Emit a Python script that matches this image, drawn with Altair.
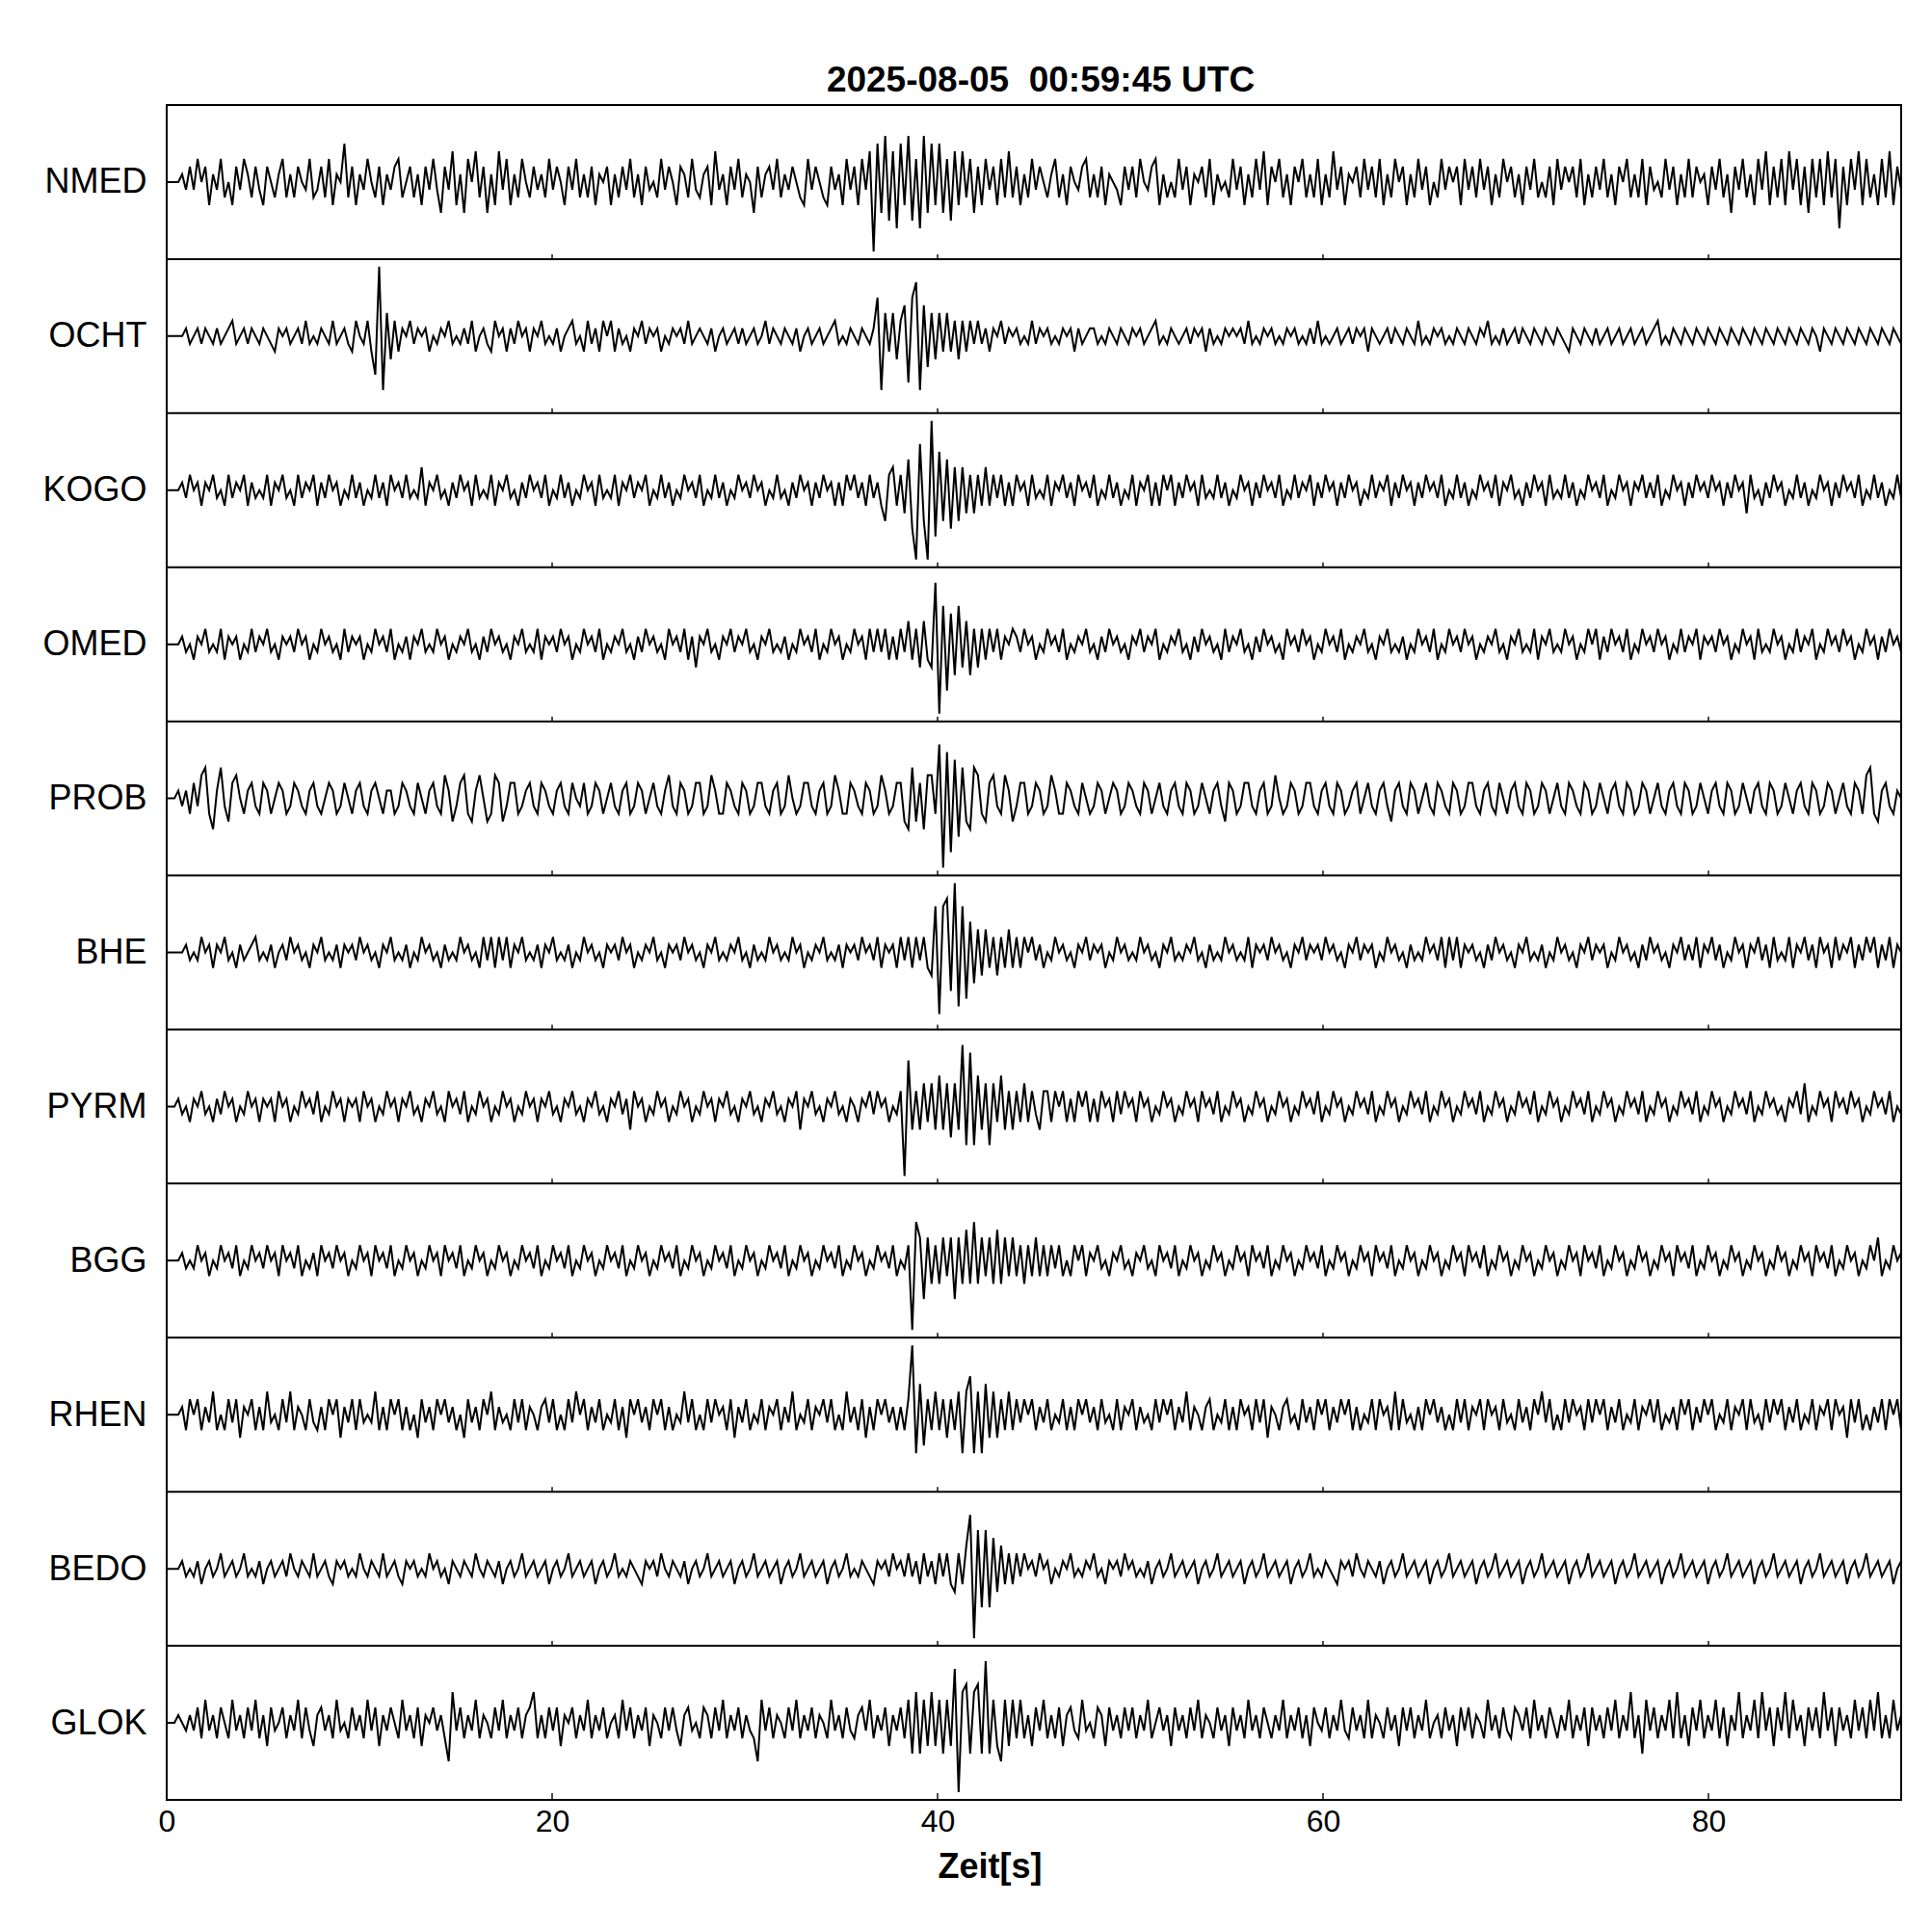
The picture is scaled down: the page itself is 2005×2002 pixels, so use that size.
import altair as alt
import pandas as pd

STATIONS = ["NMED", "OCHT", "KOGO", "OMED", "PROB", "BHE", "PYRM", "BGG", "RHEN", "BEDO", "GLOK"]
DURATION = 90.0
TITLE = "2025-08-05\u00a0 00:59:45 UTC"
X_TICKS = [0, 20, 40, 60, 80]
X_LABEL = "Zeit[s]"

# normalised trace amplitudes, one sample every ~0.2 s (10 = half a panel)
NMED = [
0,0,0,0,1,-1,2,-1,3,0, 2,-3,1,-1,3,-2,0,-3,2,-1, 3,1,-2,2,-1,-3,2,0,-2,1, 3,-2,1,-2,2,0,-1,3,-2,-1, 2,-2,3,-3,1,0,5,-2,2,-3,
1,-1,3,0,-2,2,-3,1,-1,2, 3,-2,0,2,-2,1,-3,2,-1,3, -1,-4,2,-1,4,-3,1,-4,3,0, 4,-2,2,-4,1,-3,4,-1,3,-3, 1,-2,3,0,-2,2,-1,1,-2,3,
-1,2,0,-3,2,-1,3,-2,1,-2, 2,-3,1,0,2,-3,1,-2,2,-1, 3,-2,1,-3,2,-1,0,-2,3,-1, 2,0,-3,2,1,-2,3,-1,-2,1, 2,-3,4,-1,1,-3,2,-1,3,-2,
1,0,-4,2,-2,1,2,-1,3,-2, 1,-1,2,0,-2,-3,3,-1,2,0, -2,-3,2,-1,1,-3,3,-1,2,-3, 3,-1,4,-9,5,-4,6,-5,4,-6, 5,-3,6,-5,3,-6,6,-4,5,-3,
5,-4,3,-5,4,-3,4,-2,3,-4, 2,-3,3,-1,2,-3,3,-2,4,-2, 2,-3,1,-2,3,-1,2,0,-2,1, 3,-2,1,-3,2,0,-1,2,3,-2, 1,-2,2,-3,1,0,-1,-3,2,-1,
2,-2,3,0,-1,2,3,-3,1,-2, 0,-2,3,-1,2,-3,1,0,2,-2, 3,-3,1,-1,0,-2,3,-1,2,-3, 1,-2,3,-1,4,-3,2,0,3,-2, 1,-3,2,0,3,-2,1,-2,3,-3,
1,-2,4,-1,2,-3,1,0,2,-2, 3,-1,2,-2,3,-3,1,-2,3,0, 2,-3,1,-2,3,-1,2,-3,0,-2, 3,-1,2,0,2,-3,3,-1,2,-2, 3,-1,2,-3,1,-2,3,0,2,-2,
1,-3,2,-1,3,-2,0,-2,2,-3, 3,-1,2,0,2,-2,3,-3,1,-2, 2,-1,3,-2,1,-3,2,0,3,-2, 1,-2,3,-3,2,-1,0,-2,3,-1, 2,-3,1,-2,3,-2,2,0,1,-3,
2,-1,3,-2,1,-4,2,-1,3,-2, 1,-3,3,-1,4,-3,2,-2,3,-3, 4,-1,3,-3,2,-4,3,-2,3,-3, 4,-2,3,-6,2,-3,3,-1,4,-3, 3,-2,1,-3,3,-2,4,-3,2,-1,
]
OCHT = [
0,0,0,0,0,1,-1,0,1,-1, 1,0,-1,1,-1,0,1,2,-1,0, 1,-1,1,0,-1,1,0,-1,-2,1, 0,1,-1,0,1,-1,2,-1,0,-1, 1,0,-1,2,-1,0,1,-1,-2,2,
0,-1,2,-2,-5,9,-7,3,-3,2, -2,1,0,2,-1,1,0,1,-2,0, -1,1,0,2,-1,0,-1,1,-1,2, -2,0,1,-1,-2,2,0,1,-2,1, -1,2,0,1,-2,1,0,2,-1,0,
-1,1,-2,0,1,2,-1,0,-2,2, -1,1,-2,2,0,2,-2,1,-1,0, -2,1,0,2,-1,1,0,1,-2,0, -1,1,0,1,-1,2,-1,0,1,0, -1,1,-2,0,1,-1,0,1,-1,1,
-1,0,1,-1,0,2,-1,1,0,-1, 1,0,-1,1,-2,0,1,-1,0,1, -1,0,1,2,-1,0,-1,1,0,-1, 1,0,-1,1,5,-7,3,-2,3,-3, 2,4,-6,5,7,-7,4,-4,3,-3,
3,-2,3,-2,2,-3,2,-2,2,-1, 2,-1,1,-2,1,0,2,-1,1,0, 1,-1,0,-1,2,-1,1,0,1,-1, 0,-1,1,0,1,-2,1,-1,0,1, 1,-1,0,-1,1,0,-1,1,0,-1,
1,0,1,-1,0,1,2,-1,0,-1, 1,0,-1,0,1,-1,1,0,1,-2, 1,-1,0,-1,1,0,1,0,1,-1, 2,-1,0,-1,1,0,1,-1,0,-1, 1,0,1,-1,0,-1,1,-1,2,-1,
0,-1,0,1,-1,0,1,-1,1,0, 1,-2,1,0,-1,0,1,-1,1,0, -1,1,0,-1,2,-1,0,-1,1,0, 1,-1,0,-1,1,0,-1,1,0,-1, 1,0,2,-1,0,-1,1,-1,0,1,
-1,1,0,-1,1,0,-1,1,0,-1, 1,0,-1,-2,1,0,-1,1,0,-1, 1,-1,0,1,-1,0,1,-1,0,1, -1,0,1,-1,0,1,2,-1,0,-1, 1,0,-1,1,0,-1,1,0,-1,1,
0,-1,1,0,-1,1,0,-1,1,0, -1,1,0,-1,1,0,-1,1,0,-1, 1,0,-1,1,0,-1,1,0,-2,1, 0,-1,1,0,-1,1,0,-1,1,0, -1,1,0,-1,1,0,-1,1,0,-1,
]
KOGO = [
0,0,0,0,1,-1,2,0,1,-2, 1,0,2,-1,0,-2,2,-1,1,0, 2,-2,1,-1,0,-1,2,-2,1,0, 2,-1,0,-2,2,-1,1,0,2,-2, 1,-1,2,0,1,-2,0,-1,2,-1,
1,-2,0,-1,2,-1,1,-2,2,0, 1,-1,2,-1,0,-1,3,-2,1,0, 2,-1,0,-2,1,-1,2,0,1,-2, 2,-1,0,-1,2,-2,1,0,2,-1, 0,-2,1,-1,2,0,1,-1,2,-2,
0,-1,2,-1,1,-2,0,-1,2,0, 1,-2,2,-1,0,-1,2,-2,1,0, 2,-1,1,0,2,-2,0,-1,2,-1, 1,-2,0,-1,2,0,1,-1,2,-2, 0,-1,2,-1,1,-2,0,-1,2,0,
1,-1,2,0,1,-2,0,-1,2,-1, 0,-2,1,-1,2,0,1,-2,1,-1, 2,0,1,-2,1,-2,2,0,2,-1, 1,-2,2,-1,1,-2,-4,2,3,-2, 2,-3,4,-5,-9,6,-4,-9,9,-6,
5,-4,4,-5,3,-4,3,-3,2,-3, 2,-2,3,-2,2,-1,2,-2,1,-2, 2,0,1,-2,2,-1,0,-1,2,-2, 1,0,2,-1,1,-2,2,0,1,-1, 2,-2,0,-1,2,-1,1,-2,0,-1,
2,-2,1,0,2,-2,1,-2,2,0, 2,-2,1,-1,2,0,1,-2,2,-1, 0,-1,2,-1,1,-2,0,-1,2,0, 1,-2,1,-1,2,0,1,-1,2,-2, 0,-1,2,-1,1,0,2,-2,1,-1,
2,0,1,-2,1,-1,2,0,1,-2, 0,-1,2,-1,1,0,2,-2,1,-1, 2,0,1,-2,1,-1,2,0,1,-1, 2,-2,0,-1,2,-1,1,-2,0,-1, 2,0,1,-1,2,-2,1,0,2,-1,
0,-2,1,-1,2,0,1,-2,2,-1, 0,-1,2,-1,1,-2,0,-1,2,0, 1,-1,2,-2,0,-1,2,0,1,-2, 1,0,2,-1,1,-1,2,-2,0,-1, 2,0,1,-2,1,-1,2,0,1,-1,
2,0,1,-2,1,-1,2,0,1,-3, 2,-1,0,-2,1,-1,2,0,1,-2, 0,-1,2,-1,1,-2,0,-1,2,0, 1,-2,1,-1,2,0,1,-1,2,-2, 0,-1,2,-1,1,-2,0,-1,2,-1,
]
OMED = [
0,0,0,0,1,-1,0,-2,1,0, 2,-1,0,-1,2,-2,1,0,1,-2, 0,-1,2,-1,1,0,2,-1,0,-2, 1,0,1,-1,2,0,1,-2,0,-1, 2,0,1,-1,0,-2,2,-1,1,0,
1,-2,0,-1,2,0,1,-1,2,-2, 0,-1,1,-2,1,0,2,-1,0,-1, 2,0,1,-2,0,-1,1,0,2,-1, 0,-2,1,-1,2,0,1,-1,0,-2, 1,0,2,-1,0,-1,2,-2,1,0,
1,-1,2,0,1,-2,0,-1,2,0, 1,-1,2,-2,0,-1,1,0,2,-1, 0,-2,1,-1,2,0,1,-1,0,-2, 2,0,1,-1,2,-2,1,-3,1,0, 2,-1,0,-2,1,0,2,-1,1,0,
2,-1,0,-2,1,0,2,-1,0,-1, 1,-2,0,-1,2,0,1,-1,2,-2, 0,-1,2,0,1,-2,0,-1,2,0, 1,-2,2,-1,2,-1,2,-2,1,-2, 2,-1,3,-2,2,-3,3,-2,-3,8,
-9,5,-6,4,-4,5,-3,3,-4,2, -3,2,-2,2,-1,2,-2,1,0,2, 1,-1,2,0,1,-2,0,-1,2,0, 1,-1,2,-2,0,-1,1,0,2,-1, 0,-2,1,-1,2,0,1,-1,0,-2,
1,0,2,-1,1,0,2,-2,0,-1, 1,0,2,-1,0,-2,1,-1,2,0, 1,-1,0,-2,2,-1,1,0,2,-1, 0,-2,1,-1,2,0,1,-1,0,-2, 2,0,1,-1,2,0,1,-2,0,-1,
2,0,1,-1,2,-2,0,-1,1,0, 2,-1,0,-2,1,0,2,-1,0,-1, 1,-2,0,-1,2,0,1,-1,2,-2, 0,-1,2,0,1,-1,2,0,1,-2, 0,-1,1,0,2,-1,0,-2,1,0,
2,-1,0,-1,2,-2,1,0,2,-1, 0,-1,2,0,1,-2,0,-1,2,0, 2,-2,1,-1,2,0,1,-1,2,-2, 0,-1,2,0,1,-1,2,0,1,-2, 0,-1,2,-1,1,0,2,-2,1,0,
1,-1,2,0,1,-2,0,-1,2,0, 1,-2,2,-1,0,-1,2,0,1,-2, 0,-1,2,-1,1,0,2,-2,0,-1, 2,0,1,-1,2,0,1,-2,0,-1, 2,0,1,-2,1,-1,2,0,1,-1,
]
PROB = [
0,0,0,1,-1,1,-2,2,-1,3, 4,-2,-4,1,4,-1,-3,2,3,0, -2,1,2,-1,-2,2,1,-2,0,2, 1,-2,-1,2,1,-1,-2,1,2,-1, -2,0,2,1,-2,-1,2,0,-2,1,
2,-1,-2,1,2,0,-2,1,1,-2, -1,2,1,-1,-2,2,0,-2,1,2, -1,-2,3,1,-3,-1,2,3,-2,-3, 1,3,0,-3,-2,3,2,-3,-1,2, 2,-2,-1,1,2,-1,-2,2,1,-1,
-2,1,2,-1,-2,2,0,-1,2,-2, -1,2,1,-2,0,2,-1,-2,1,2, -2,-1,2,1,-2,0,2,-1,-2,1, 3,-1,-2,2,1,-2,-1,2,2,-2, -1,3,1,-2,-2,2,1,-1,-2,2,
1,-2,-1,2,2,-1,-2,1,2,-2, -1,3,0,-2,-1,2,2,-1,-2,1, 2,-2,-1,3,1,-2,-2,2,1,-1, -2,2,1,-2,-1,3,1,-2,-1,2, 2,-3,-4,4,-3,2,-4,3,3,-2,
7,-9,6,-7,5,-5,4,-3,-4,4, 3,-2,-3,2,3,-1,-2,3,1,-3, -1,2,2,-2,-1,2,1,-2,-1,3, 1,-2,-2,2,1,-1,-2,2,0,-2, -1,2,1,-2,0,2,1,-2,-1,2,
1,-1,-2,2,1,-2,0,2,-1,-2, 1,2,-1,-2,2,1,-2,-1,2,0, -2,1,2,-1,-3,2,1,-2,-1,2, 2,-1,-2,1,2,-2,-1,3,0,-2, -1,2,1,-2,-1,2,2,-1,-2,1,
2,-1,-2,2,1,-2,-1,1,2,-2, 0,2,-1,-2,1,2,-1,-3,1,2, -1,-2,2,1,-2,0,2,-1,-2,2, 1,-1,-2,2,1,-2,-1,2,2,-1, -2,1,2,-1,-2,2,0,-2,1,2,
-1,-2,2,1,-2,-1,2,1,-2,0, 2,-1,-2,2,1,-1,-2,2,1,-2, -1,2,0,-2,1,2,-1,-2,2,1, -2,-1,2,1,-2,0,2,-1,-2,1, 2,-1,-2,2,1,-2,-1,2,0,-2,
1,2,-1,-2,2,1,-2,-1,2,0, -2,1,2,-1,-2,2,1,-2,-1,2, 0,-2,1,2,-1,-2,2,1,-2,-1, 2,1,-2,0,2,-1,-2,2,1,-2, 3,4,-2,-3,1,2,-1,-2,1,0,
]
BHE = [
0,0,0,0,0,1,-1,0,-1,2, 0,1,-2,1,0,2,-1,0,-2,1, -1,0,1,2,-1,0,-1,1,-2,0, 1,-1,2,0,1,-1,0,-2,1,0, 2,-1,0,-1,1,-2,1,0,1,-1,
2,0,1,-1,0,-2,1,0,2,-1, 0,-1,1,-2,0,-1,2,0,1,-1, 0,-2,1,-1,0,-1,2,0,1,-1, 0,-2,2,-1,2,-2,2,-1,2,-2, 1,0,2,-1,0,-1,1,-2,1,0,
2,-1,0,-1,1,-2,0,-1,2,0, 1,-1,0,-2,1,0,1,-1,2,0, 1,-2,0,-1,1,0,2,-1,0,-2, 1,0,1,-1,2,0,1,-1,0,-2, 1,0,2,-1,0,-1,1,0,2,-1,
0,-2,1,-1,0,-1,2,0,1,-1, 0,-1,2,0,1,-2,0,-1,1,0, 2,-1,0,-1,1,-2,1,0,1,-1, 2,0,1,-1,2,-2,1,0,1,-2, 2,-1,2,-2,2,-1,2,-2,-3,6,
-8,6,7,-5,9,-7,6,-6,4,-4, 3,-3,3,-2,2,-3,2,-2,3,-2, 2,-2,2,0,2,-1,1,-2,0,-1, 2,0,1,-1,0,-2,1,0,2,-1, 1,0,1,-2,0,-1,2,0,1,-1,
0,-1,2,0,1,-1,0,-2,1,0, 2,-1,0,-1,1,0,2,-1,0,-2, 1,-1,0,-1,2,0,1,-1,0,-1, 2,-2,1,0,1,-1,2,0,1,-1, 0,-2,1,0,2,-1,1,0,1,-1,
2,0,1,-1,0,-2,1,0,2,-1, 1,0,1,-2,0,-1,2,0,1,-1, 0,-2,1,-1,0,-1,2,0,1,-1, 2,-2,2,-1,2,-2,1,0,1,-1, 0,-2,1,-1,2,0,1,-1,0,-2,
1,0,2,-1,0,-1,1,-2,0,-1, 2,0,1,-1,0,-2,1,0,2,-1, 1,0,1,-2,0,-1,2,0,1,-1, 0,-2,1,-1,2,0,1,-1,0,-2, 1,0,2,-1,1,-1,2,-2,1,0,
2,-1,1,-2,0,-1,2,0,1,-2, 1,0,2,-1,1,-2,2,-1,0,-1, 2,-2,1,0,2,-1,1,-2,2,0, 1,-2,2,-1,1,0,2,-2,1,-1, 2,0,2,-2,1,-1,2,-2,1,0,
]
PYRM = [
0,0,0,1,-1,0,-2,1,0,2, -1,0,-2,1,-1,2,0,1,-2,0, -1,2,0,1,-2,1,0,1,-2,2, 0,1,-2,0,-1,2,0,1,-1,2, -2,0,-1,2,0,1,-2,1,0,1,
-2,2,0,1,-2,0,-1,2,0,1, -2,1,0,2,-1,0,-2,1,0,2, -1,0,-2,2,0,1,-1,2,-2,0, -1,2,0,1,-2,0,-1,2,0,1, -2,0,-1,2,0,1,-2,1,0,2,
-1,0,-2,1,0,2,-1,0,-2,1, 0,2,-1,0,-2,1,0,2,-1,1, -3,2,0,1,-2,0,-1,2,0,1, -2,0,-1,2,0,1,-2,0,-1,2, 0,1,-2,1,0,2,-1,0,-2,1,
0,2,-1,0,-2,1,0,2,-1,0, -2,1,0,2,-3,1,0,2,-1,0, -2,1,0,2,-1,0,-2,1,0,-2, 1,0,2,-1,2,0,1,-2,0,-1, 2,-9,6,-3,2,-3,3,-2,3,-3,
4,-3,3,-4,3,-3,8,-5,7,-5, 4,-3,3,-5,3,-2,4,-3,2,-3, 2,-2,3,-2,2,-1,-3,2,2,-2, 2,0,2,-2,1,-2,2,0,2,-2, 1,-2,2,0,1,-2,2,-1,2,0,
1,-2,2,0,1,-2,0,-1,2,0, 1,-2,0,-1,2,0,1,-2,2,0, 1,-1,2,-2,0,-1,2,0,1,-2, 0,-1,2,0,1,-2,0,-1,2,0, 1,-2,0,-1,2,0,1,-1,2,-2,
0,-1,2,0,1,-2,0,-1,2,0, 1,-1,2,-2,0,-1,2,0,1,-2, 0,-1,2,0,1,-1,2,-2,0,-1, 2,0,1,-2,0,-1,2,0,1,-1, 2,-2,0,-1,2,0,1,-2,0,-1,
2,0,1,-1,2,-2,0,-1,2,0, 1,-2,0,-1,2,0,1,-1,2,-2, 0,-1,2,0,1,-2,0,-1,2,0, 1,-1,2,-2,0,-1,2,0,1,-2, 0,-1,2,0,1,-1,2,-2,0,-1,
2,0,1,-2,0,-1,2,0,1,-1, 2,-2,0,-1,2,0,1,-1,0,-2, 1,0,2,-1,3,-2,0,-1,2,0, 1,-2,2,0,1,-1,2,0,1,-2, 0,-1,2,0,1,-1,2,-2,0,-1,
]
BGG = [
0,0,0,0,1,-1,0,-1,2,0, 1,-2,0,-1,2,0,1,-1,2,-2, 0,-1,2,0,1,-1,2,0,1,-2, 2,0,1,-1,2,-2,0,-1,1,-2, 2,0,1,-1,2,0,1,-2,0,-1,
2,0,1,-2,2,0,1,-1,2,-2, 0,-1,2,0,1,-2,0,-1,2,0, 1,-2,2,0,1,-1,2,-2,0,-1, 2,0,1,-2,0,-1,2,0,1,-2, 0,-1,2,0,1,-1,2,-2,0,-1,
2,0,1,-1,2,-2,0,-1,2,0, 1,-2,0,-1,2,0,1,-1,2,-2, 0,-1,2,0,1,-2,0,-1,2,0, 1,-1,2,-2,0,-1,2,0,1,-2, 0,-1,2,0,1,-1,2,-2,0,-1,
2,0,1,-2,0,-1,2,0,1,-1, 2,-2,0,-1,2,0,1,-2,0,-1, 2,0,1,-1,2,-2,0,-1,2,0, 1,-2,0,-1,2,0,1,-1,2,-2, 0,-1,2,-9,5,3,-5,3,-3,2,
-3,3,-2,3,-5,3,-3,4,-3,5, -3,3,-2,3,-3,4,-3,3,-2,3, -2,2,-3,2,-2,3,-2,2,-2,2, -1,2,-2,0,-2,2,0,2,-2,1, 0,2,-1,0,-2,1,0,2,-1,0,
-2,1,0,2,-1,0,-2,2,0,1, -1,2,-2,0,-1,2,0,1,-2,0, -1,2,0,1,-2,0,-1,2,0,1, -2,2,0,1,-1,2,-2,0,-1,2, 0,1,-2,0,-1,2,0,1,-1,2,
-2,0,-1,2,0,1,-2,0,-1,2, 0,1,-2,2,0,1,-1,2,-2,0, -1,2,0,1,-2,0,-1,2,0,1, -2,0,-1,2,0,1,-2,2,0,1, -1,2,-2,0,-1,2,0,1,-2,0,
-1,2,0,1,-2,0,-1,2,0,1, -2,0,-1,2,0,1,-2,2,0,1, -1,2,-2,0,-1,2,0,1,-2,0, -1,2,0,1,-2,0,-1,2,0,1, -2,2,0,1,-1,2,-2,0,-1,2,
0,1,-2,0,-1,2,0,1,-2,0, -1,2,0,1,-2,0,-1,2,0,1, -2,0,-1,2,0,1,-2,2,0,1, -1,2,-2,0,-1,2,0,1,-2,0, -1,2,0,3,-2,0,-1,2,0,1,
]
RHEN = [
0,0,0,0,1,-2,2,0,2,-2, 1,-1,3,-2,0,-2,2,-1,2,-3, 1,0,2,-2,1,-2,3,-1,0,-2, 2,-1,3,-2,1,0,-2,2,-1,-2, 1,-2,2,0,2,-3,1,-1,2,-2,
2,-1,0,-1,3,-2,1,-2,2,0, 2,-2,1,-2,0,-3,2,-1,1,-2, 2,0,2,-1,1,-2,0,-3,2,-1, 1,-2,2,0,3,-2,1,-1,0,-2, 2,-1,2,-2,1,0,-2,1,2,-1,
2,-2,0,-2,2,-1,3,0,2,-2, 1,-1,2,-2,0,-1,2,-2,1,-3, 2,0,2,-1,1,-2,2,0,2,-2, 1,-2,0,-1,3,-1,2,-2,0,-2, 2,-1,2,0,1,-2,2,-3,1,-1,
2,-2,0,-1,2,-2,1,0,2,-2, 1,-1,3,-2,0,-1,2,-2,1,0, 2,-1,2,-2,0,-2,3,-1,1,-2, 2,-3,1,-2,2,0,2,-1,1,-2, 1,-2,2,9,-5,4,-4,2,-2,3,
-2,2,-3,2,-2,3,-5,3,5,-5, 3,-5,4,-3,3,-3,2,-2,3,-2, 2,-1,2,0,2,-2,1,-1,2,-2, 0,-1,2,-2,1,-2,2,0,2,-1, 1,-2,2,-1,0,-2,2,-2,1,0,
2,-2,1,-1,0,-2,2,-1,2,0, 2,-2,1,-1,3,-2,1,0,-2,1, 2,-2,0,-1,2,-2,1,-2,2,0, 1,-2,2,-1,2,-3,1,0,-2,1, 2,-1,0,-2,2,-1,1,-2,2,0,
2,-2,1,-1,2,0,2,-2,1,-2, 0,-1,2,-2,2,0,1,-2,3,-2, 2,-1,0,-2,1,-2,2,0,2,-1, 1,-2,0,-2,2,-1,2,-2,1,0, 2,-2,2,0,1,-2,2,-1,0,-2,
2,-1,1,-2,2,0,3,-1,2,-2, 0,-2,2,-1,2,0,1,-2,2,-1, 2,0,2,-2,1,-1,2,-2,0,-1, 2,-2,1,0,2,-1,2,-2,0,-1, 1,-2,2,0,2,-2,1,-1,2,0,
2,-2,0,-1,2,-2,1,0,2,-2, 2,-1,0,-2,2,-1,2,0,2,-2, 1,-1,2,-2,0,-1,2,-2,1,0, 2,-2,2,0,1,-3,2,-1,2,-2, 0,-2,1,-1,2,-2,2,0,2,-2,
]
BEDO = [
0,0,0,0,1,-1,0,-1,1,-2, 0,1,-1,0,2,-1,0,1,-1,0, 2,-1,0,-1,1,-2,0,1,-1,0, 1,-1,2,0,-1,1,0,-1,2,-1, 0,1,-1,-2,1,0,1,-1,0,-1,
2,0,-1,1,0,-1,2,-1,0,1, -1,-2,1,0,1,-1,0,-1,2,0, 1,-1,0,-2,1,0,-1,1,0,-1, 2,0,-1,1,0,-1,1,-2,0,1, -1,0,2,-1,0,1,-1,0,1,-2,
0,1,-1,0,2,-1,0,1,-1,0, 1,-2,0,1,-1,0,2,-1,0,-1, 1,0,-1,-2,1,0,1,-1,2,0, -1,1,0,-1,1,-2,0,1,-1,0, 2,-1,0,1,-1,0,1,-2,0,1,
-1,0,2,-1,0,1,-1,0,1,-2, 0,1,-1,0,2,-1,0,1,-1,0, 1,-2,0,1,-1,0,2,-1,0,-1, 1,0,-1,-2,1,0,1,-1,2,0, 1,-1,2,-1,1,-2,2,-1,1,-2,
2,-1,2,-2,-3,2,-2,3,7,-9, 5,-5,5,-5,4,-3,3,-2,2,-2, 2,-1,2,0,1,-1,2,0,1,-2, 0,-1,1,0,2,-1,0,-1,1,0, 2,-1,0,-2,1,0,1,-1,2,0,
1,-1,0,-1,1,-2,0,1,-1,0, 2,-1,0,1,-1,0,1,-2,0,1, -1,0,2,-1,0,1,-1,0,1,-2, 0,1,-1,0,2,-1,0,1,-1,0, 1,-2,0,1,-1,0,2,-1,0,-1,
1,0,-1,-2,1,0,1,-1,2,0, -1,1,0,-1,1,-2,0,1,-1,0, 2,-1,0,1,-1,0,1,-2,0,1, -1,0,2,-1,0,1,-1,0,1,-2, 0,1,-1,0,2,-1,0,1,-1,0,
1,-2,0,1,-1,0,2,-1,0,1, -1,0,1,-2,0,1,-1,0,2,-1, 0,1,-1,0,1,-2,0,1,-1,0, 2,-1,0,1,-1,0,1,-2,0,1, -1,0,2,-1,0,1,-1,0,1,-2,
0,1,-1,0,2,-1,0,1,-1,0, 1,-2,0,1,-1,0,2,-1,0,1, -1,0,1,-2,0,1,-1,0,2,-1, 0,1,-1,0,1,-2,0,1,-1,0, 2,-1,0,1,-1,0,1,-2,0,1,
]
GLOK = [
0,0,0,1,0,-1,1,-1,2,-2, 3,-1,1,-2,2,0,-2,3,-1,1, -2,2,-1,3,-2,1,-3,2,-1,0, 2,-2,1,-1,3,-2,2,-1,-3,1, 2,-1,1,-2,3,-1,0,-2,2,-1,
1,-2,3,-1,2,-3,1,-1,2,0, -2,3,-1,1,-2,2,-3,1,0,2, -1,1,-2,-5,4,-1,2,-2,1,-1, 3,-2,1,0,-2,2,-1,3,-2,1, -1,2,-2,1,2,4,-2,1,-2,2,
-1,2,-3,1,0,2,-2,1,-1,3, -2,1,-1,2,-2,0,1,-2,3,-1, 2,-2,1,-1,2,-3,1,0,-2,2, -1,2,-1,-3,1,2,-1,0,-2,2, 1,-2,2,-1,3,-2,1,-1,2,-2,
1,-1,-2,-5,3,-1,2,-2,1,0, -2,2,-1,3,-2,1,-1,2,-2,1, 0,-2,3,-1,1,-2,2,-1,-2,1, 2,-1,3,-2,1,-1,2,-3,1,-1, 2,-2,3,-4,4,-4,3,-3,4,-3,
3,-4,3,-3,7,-9,4,5,-4,4, 5,-4,8,-4,3,-3,-5,3,-3,3, -2,3,-2,1,-3,2,-1,3,-2,1, -2,2,-3,1,2,-1,-2,3,-1,0, -2,2,1,-3,2,-1,1,-2,2,-1,
2,-2,1,-1,3,-2,0,2,-1,1, -3,2,-1,1,-2,2,-1,3,-2,1, 0,-2,2,-1,1,-3,2,-1,1,-2, 3,-1,1,-2,2,0,-2,1,-1,3, -2,1,-1,2,-2,1,-3,2,0,-1,
2,-2,1,-1,3,-1,-2,2,-1,1, -2,3,-2,1,0,-2,2,-1,1,-3, 2,-1,2,-2,1,-1,3,-2,0,1, -2,2,-1,1,-3,2,-1,2,-2,1, 0,-2,3,-1,1,-2,2,-1,-2,2,
1,-1,2,-2,3,-1,1,-2,2,0, -2,1,-1,3,-2,1,-1,2,-3,2, -1,1,-2,2,-1,3,-2,1,-1,4, -2,1,-4,3,-1,2,-2,1,-1,3, -2,4,-2,1,-3,2,-1,3,-2,1,
-1,3,-2,2,-3,1,-1,4,-2,1, -1,3,-2,4,-1,2,-3,2,-1,4, -2,3,-1,1,-3,2,-1,2,-2,4, -1,2,-3,2,-1,1,-2,3,-1,2, -2,3,-1,4,-2,1,-2,3,-1,1,
]

TRACES = [NMED, OCHT, KOGO, OMED, PROB, BHE, PYRM, BGG, RHEN, BEDO, GLOK]

n_st = len(STATIONS)
rows = []
for i, (name, vals) in enumerate(zip(STATIONS, TRACES)):
    dt = DURATION / (len(vals) - 1)
    base = n_st - 0.5 - i
    for k, v in enumerate(vals):
        rows.append({"station": name, "t": k * dt, "y": base + v / 20.0})
df = pd.DataFrame(rows)

bounds = pd.DataFrame({"y": list(range(1, n_st))})
ticks_inner = pd.DataFrame([{"t": x, "y": b} for b in range(1, n_st) for x in X_TICKS[1:]])
ticks_bottom = pd.DataFrame([{"t": x, "y": 0} for x in X_TICKS[1:]])

FONT = "Liberation Sans"
xscale = alt.Scale(domain=[0, DURATION], nice=False, zero=False)
yscale = alt.Scale(domain=[0, n_st], nice=False, zero=False)

label_arr = "[" + ",".join("'%s'" % s for s in STATIONS) + "]"
label_expr = label_arr + "[round(%s - datum.value)]" % (n_st - 0.5)

x_axis = alt.Axis(values=X_TICKS, ticks=False, domain=False, grid=False,
                  labelFontSize=32, labelPadding=7, labelColor="black",
                  labelFont=FONT, labelFlush=False,
                  title=X_LABEL, titleFontSize=36, titleFontWeight="bold",
                  titleFont=FONT, titleColor="black", titleX=800, titleY=80,
                  titleAlign="left", titleBaseline="alphabetic")
y_axis = alt.Axis(values=[n_st - 0.5 - i for i in range(n_st)],
                  labelExpr=label_expr, ticks=False, domain=False, grid=False,
                  labelFontSize=36, labelPadding=21, labelColor="black",
                  labelFont=FONT, labelFlush=False, title=None)

X = alt.X("t:Q", scale=xscale, axis=x_axis, title=X_LABEL)
Y = alt.Y("y:Q", scale=yscale, axis=y_axis, title=None)

lines = alt.Chart(df).mark_line(color="black", strokeWidth=2, clip=True).encode(
    x=X, y=Y, detail="station:N",
)

rules = alt.Chart(bounds).mark_rule(color="black", strokeWidth=2).encode(y=Y)

tick_in = alt.Chart(ticks_inner).mark_tick(
    orient="vertical", color="black", size=5, thickness=2, yOffset=-2.5
).encode(x=X, y=Y)
tick_bot = alt.Chart(ticks_bottom).mark_tick(
    orient="vertical", color="black", size=7, thickness=2, yOffset=-3.5
).encode(x=X, y=Y)

chart = alt.layer(lines, rules, tick_in, tick_bot).properties(
    width=1800,
    height=1759,
    padding={"left": 165, "top": 101, "right": 20, "bottom": 100},
    autosize=alt.AutoSizeParams(type="none"),
    title=alt.TitleParams(TITLE, fontSize=37, fontWeight="bold", font=FONT,
                          anchor="middle", offset=14, baseline="alphabetic",
                          dx=7, dy=37, color="black"),
).configure(font=FONT).configure_view(stroke="black", strokeWidth=2)

chart.save("out.html", embed_options={"renderer": "svg", "actions": False})
